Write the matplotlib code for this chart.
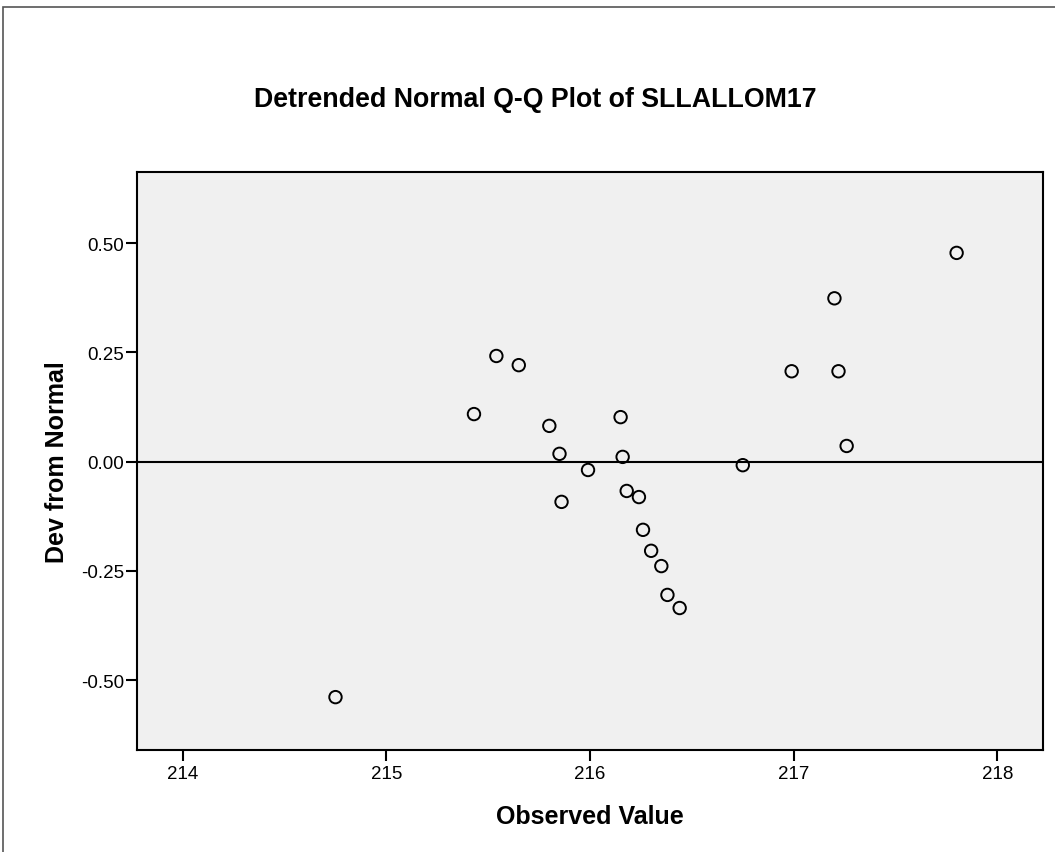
import matplotlib.pyplot as plt
from matplotlib.patches import Rectangle

plt.rcParams['font.family'] = ['Liberation Sans', 'DejaVu Sans']

# observed values and their deviation from the normal line
observed = [214.75, 215.43, 215.54, 215.65, 215.80, 215.85, 215.86, 215.99,
            216.15, 216.16, 216.18, 216.24, 216.26, 216.30, 216.35, 216.38,
            216.44, 216.75, 216.99, 217.20, 217.22, 217.26, 217.80]
dev_normal = [-0.539, 0.109, 0.242, 0.221, 0.082, 0.018, -0.092, -0.019,
              0.102, 0.011, -0.067, -0.081, -0.156, -0.204, -0.239, -0.305,
              -0.335, -0.008, 0.207, 0.374, 0.207, 0.036, 0.478]

x_ticks = [214, 215, 216, 217, 218]
y_ticks = [-0.50, -0.25, 0.00, 0.25, 0.50]

fig = plt.figure(figsize=(10.55, 8.53), dpi=100)
fig.patches.append(Rectangle((3 / 1055, -0.1), 1.2, 1 - 8 / 853 + 0.1,
                             transform=fig.transFigure, fill=False,
                             edgecolor='#555555', linewidth=1.2))

ax = fig.add_axes([0.1296, 0.1196, 0.8588, 0.678])
ax.set_facecolor('#f0f0f0')

ax.axhline(0, color='black', linewidth=1.5, zorder=2)
ax.scatter(observed, dev_normal, s=80, facecolors='none', edgecolors='black',
           linewidths=1.4, zorder=3)

ax.set_xlim(213.774, 218.223)
ax.set_ylim(-0.660, 0.664)
ax.set_xticks(x_ticks)
ax.set_xticklabels([str(t) for t in x_ticks])
ax.set_yticks(y_ticks)
ax.set_yticklabels([f'{t:.2f}' for t in y_ticks])
ax.tick_params(direction='out', length=8, width=1.5, labelsize=13.5)
ax.tick_params(axis='x', pad=3)
ax.tick_params(axis='y', pad=1)

for side in ['left', 'right', 'top', 'bottom']:
    ax.spines[side].set_linewidth(1.5)
    ax.spines[side].set_color('black')

ax.set_xlabel('Observed Value', fontsize=18, fontweight='bold', labelpad=16)
ax.set_ylabel('Dev from Normal', fontsize=18, fontweight='bold', labelpad=9)
fig.text(0.5076, 1 - 100 / 853, 'Detrended Normal Q-Q Plot of SLLALLOM17',
         ha='center', va='center', fontsize=19.3, fontweight='bold')

fig.savefig('out.png', dpi=100)
